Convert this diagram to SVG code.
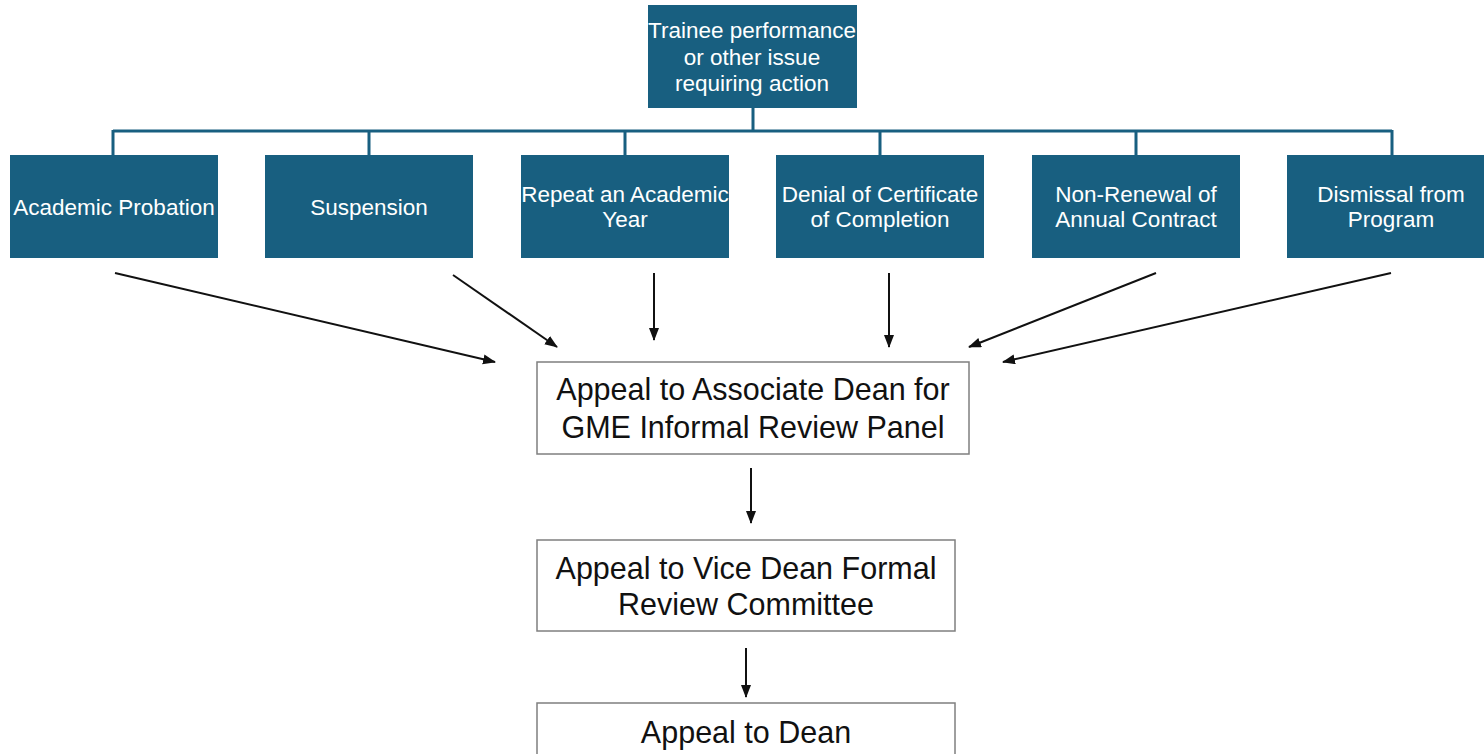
<svg xmlns="http://www.w3.org/2000/svg" width="1484" height="754" viewBox="0 0 1484 754">
<style>
.blue rect{fill:#185f80;}
.blue text{fill:#ffffff;font-family:"Liberation Sans",Arial,sans-serif;font-size:22.5px;text-anchor:middle;}
.white rect{fill:#ffffff;stroke:#7f7f7f;stroke-width:1.5;}
.white text{fill:#111111;font-family:"Liberation Sans",Arial,sans-serif;font-size:30.5px;text-anchor:middle;}
.tree{stroke:#185f80;stroke-width:3;fill:none;}
.arr{stroke:#111111;stroke-width:2;fill:none;marker-end:url(#ah);}
</style>
<defs>
<marker id="ah" markerUnits="userSpaceOnUse" markerWidth="14" markerHeight="12" refX="12" refY="5" orient="auto">
<path d="M0,0 L13,5 L0,10 Z" fill="#111111"/>
</marker>
</defs>
<rect width="1484" height="754" fill="#ffffff"/>
<g id="connectors">
<path class="tree" d="M753,108 V131 M113,131 H1392 M113,130 V155 M369,130 V155 M625,130 V155 M880,130 V155 M1136,130 V155 M1392,130 V155"/>
<line class="arr" x1="115" y1="273" x2="495" y2="362"/>
<line class="arr" x1="453" y1="275" x2="557" y2="347"/>
<line class="arr" x1="654" y1="273" x2="654" y2="340"/>
<line class="arr" x1="889" y1="273" x2="889" y2="347"/>
<line class="arr" x1="1156" y1="273" x2="969" y2="347"/>
<line class="arr" x1="1391" y1="273" x2="1003" y2="362"/>
<line class="arr" x1="751" y1="468" x2="751" y2="523"/>
<line class="arr" x1="746" y1="648" x2="746" y2="697"/>
</g>
<g id="top" class="blue">
<rect x="648" y="5" width="209" height="103"/>
<text x="752" y="38">Trainee performance</text>
<text x="752" y="65">or other issue</text>
<text x="752" y="91">requiring action</text>
</g>
<g id="probation" class="blue">
<rect x="10" y="155" width="208" height="103"/>
<text x="114" y="215">Academic Probation</text>
</g>
<g id="suspension" class="blue">
<rect x="265" y="155" width="208" height="103"/>
<text x="369" y="215">Suspension</text>
</g>
<g id="repeat" class="blue">
<rect x="521" y="155" width="208" height="103"/>
<text x="625" y="202">Repeat an Academic</text>
<text x="625" y="227">Year</text>
</g>
<g id="denial" class="blue">
<rect x="776" y="155" width="208" height="103"/>
<text x="880" y="202">Denial of Certificate</text>
<text x="880" y="227">of Completion</text>
</g>
<g id="nonrenewal" class="blue">
<rect x="1032" y="155" width="208" height="103"/>
<text x="1136" y="202">Non-Renewal of</text>
<text x="1136" y="227">Annual Contract</text>
</g>
<g id="dismissal" class="blue">
<rect x="1287" y="155" width="208" height="103"/>
<text x="1391" y="202">Dismissal from</text>
<text x="1391" y="227">Program</text>
</g>
<g id="assocdean" class="white">
<rect x="537" y="362" width="432" height="92"/>
<text x="753" y="400">Appeal to Associate Dean for</text>
<text x="753" y="438">GME Informal Review Panel</text>
</g>
<g id="vicedean" class="white">
<rect x="537" y="540" width="418" height="91"/>
<text x="746" y="579">Appeal to Vice Dean Formal</text>
<text x="746" y="615">Review Committee</text>
</g>
<g id="dean" class="white">
<rect x="537" y="703" width="418" height="70"/>
<text x="746" y="743">Appeal to Dean</text>
</g>
</svg>
